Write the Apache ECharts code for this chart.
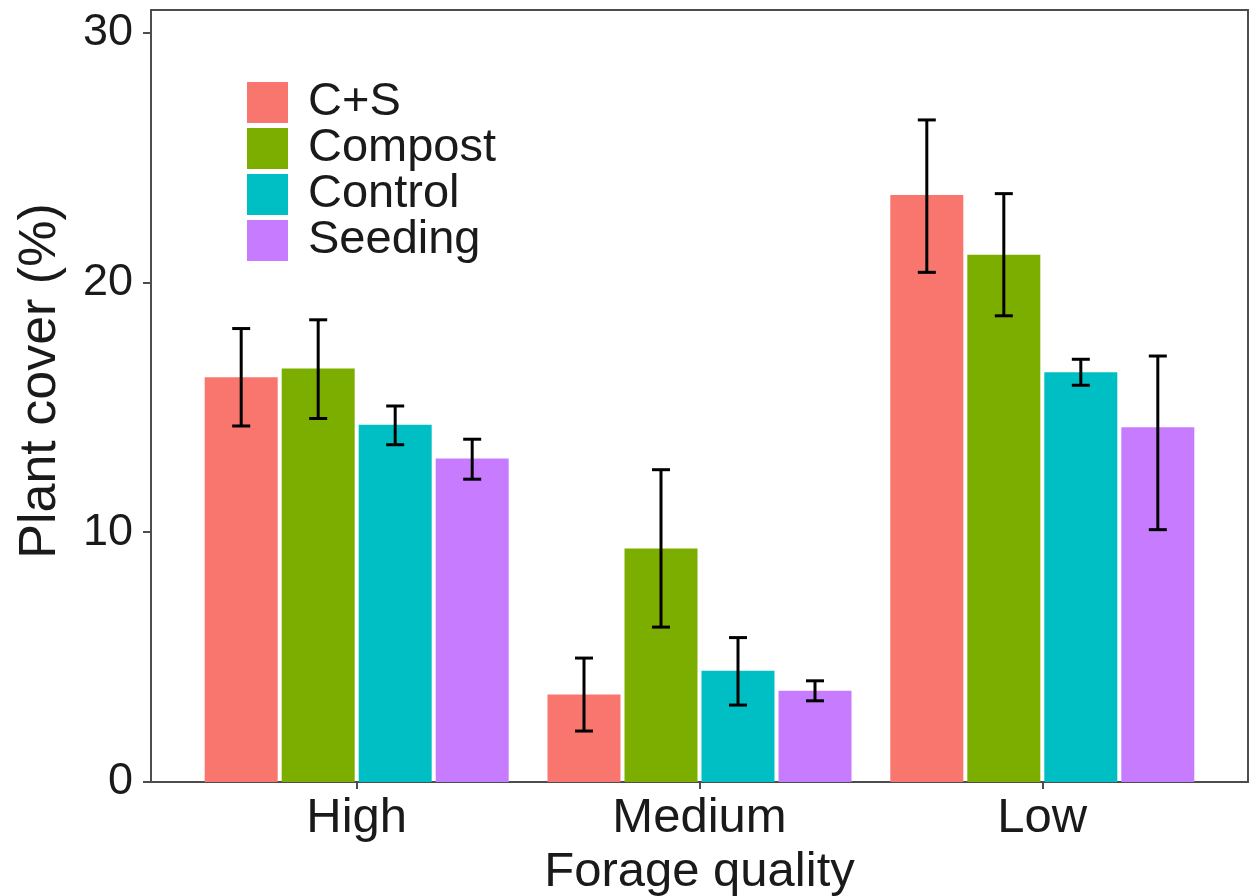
<!DOCTYPE html>
<html>
<head>
<meta charset="utf-8">
<script src="https://cdn.jsdelivr.net/npm/echarts@6/dist/echarts.min.js"></script>
<style>
  html, body { margin: 0; padding: 0; background: #fff; }
  #chart { width: 1260px; height: 896px; }
</style>
</head>
<body>
<div id="chart"></div>
<script>
// Forage quality classes on the x axis
const categories = ['High', 'Medium', 'Low'];
// Restoration treatments
const treatments = ['C+S', 'Compost', 'Control', 'Seeding'];
// Mean plant cover (%) per treatment, in category order
const csMean = [16.2, 3.5, 23.5];
const compostMean = [16.55, 9.35, 21.1];
const controlMean = [14.3, 4.45, 16.4];
const seedingMean = [12.95, 3.65, 14.2];
// Error bar bounds (lower, upper) per treatment
const csLow = [14.25, 2.04, 20.4];
const csHigh = [18.15, 4.96, 26.5];
const compostLow = [14.55, 6.2, 18.66];
const compostHigh = [18.5, 12.5, 23.55];
const controlLow = [13.5, 3.08, 15.88];
const controlHigh = [15.05, 5.78, 16.92];
const seedingLow = [12.12, 3.25, 10.1];
const seedingHigh = [13.72, 4.05, 17.05];
// Axis ticks
const xTicks = [0, 1, 2];
const yTicks = [0, 10, 20, 30];

const means = [csMean, compostMean, controlMean, seedingMean];
const lows = [csLow, compostLow, controlLow, seedingLow];
const highs = [csHigh, compostHigh, controlHigh, seedingHigh];
const colors = ['#F8766D', '#7CAE00', '#00BFC4', '#C77CFF'];

const BAR_W = 73;
const BAR_GAP = 4;
const FONT = 'Liberation Sans, Arial, sans-serif';
const INK = '#1a1a1a';
const FRAME = '#4d4d4d';

const chart = echarts.init(document.getElementById('chart'), null, { renderer: 'canvas' });

const barSeries = treatments.map((name, i) => ({
  name: name,
  type: 'bar',
  data: means[i].map((v, k) => [k, v]),
  barWidth: BAR_W,
  barGap: (BAR_GAP / BAR_W * 100).toFixed(2) + '%',
  itemStyle: { color: colors[i] },
  z: 2
}));

const errorSeries = treatments.map((name, i) => ({
  type: 'custom',
  name: name + ' SE',
  z: 5,
  silent: true,
  data: categories.map((c, k) => [k, lows[i][k], highs[i][k]]),
  renderItem: function (params, api) {
    const offset = (i - 1.5) * (BAR_W + BAR_GAP);
    const lo = api.coord([api.value(0), api.value(1)]);
    const hi = api.coord([api.value(0), api.value(2)]);
    const x = lo[0] + offset;
    const half = 9;
    const style = { stroke: '#000', lineWidth: 3, fill: null };
    return {
      type: 'group',
      children: [
        { type: 'line', shape: { x1: x, y1: lo[1], x2: x, y2: hi[1] }, style: style },
        { type: 'line', shape: { x1: x - half, y1: lo[1], x2: x + half, y2: lo[1] }, style: style },
        { type: 'line', shape: { x1: x - half, y1: hi[1], x2: x + half, y2: hi[1] }, style: style }
      ]
    };
  }
}));

chart.setOption({
  backgroundColor: '#ffffff',
  animation: false,
  grid: {
    left: 151, right: 12, top: 10, bottom: 114,
    outerBoundsMode: 'none',
    containLabel: false,
    show: true, borderColor: FRAME, borderWidth: 2, backgroundColor: '#fff'
  },
  legend: {
    data: treatments,
    orient: 'vertical',
    left: 247, top: 79,
    padding: 0,
    itemWidth: 41, itemHeight: 41, itemGap: -1,
    icon: 'rect',
    selectedMode: false,
    textStyle: { fontSize: 47, fontFamily: FONT, color: INK, lineHeight: 45, padding: [0, 0, 0, 15] }
  },
  xAxis: {
    type: 'value',
    min: -0.6, max: 2.6,
    name: 'Forage quality',
    nameLocation: 'middle',
    nameGap: 56,
    nameTextStyle: { fontSize: 49, fontFamily: FONT, color: INK },
    axisLine: { show: true, onZero: false, lineStyle: { color: FRAME, width: 2 } },
    axisTick: { show: true, length: 7, customValues: xTicks, lineStyle: { color: FRAME, width: 2 } },
    axisLabel: {
      fontSize: 49, fontFamily: FONT, color: INK, margin: 12,
      customValues: xTicks,
      formatter: v => categories[Math.round(v)]
    },
    splitLine: { show: false }
  },
  yAxis: {
    type: 'value',
    min: 0, max: 30.9, interval: 10,
    name: 'Plant cover (%)',
    nameLocation: 'middle',
    nameGap: 84,
    nameRotate: 90,
    nameTextStyle: { fontSize: 52, fontFamily: FONT, color: INK, padding: [0, 0, 0, 30] },
    axisLine: { show: true, onZero: false, lineStyle: { color: FRAME, width: 2 } },
    axisTick: { show: true, length: 8, customValues: yTicks, lineStyle: { color: FRAME, width: 2 } },
    axisLabel: { fontSize: 45, fontFamily: FONT, color: INK, margin: 18, customValues: yTicks },
    splitLine: { show: false }
  },
  series: barSeries.concat(errorSeries)
});
</script>
</body>
</html>
